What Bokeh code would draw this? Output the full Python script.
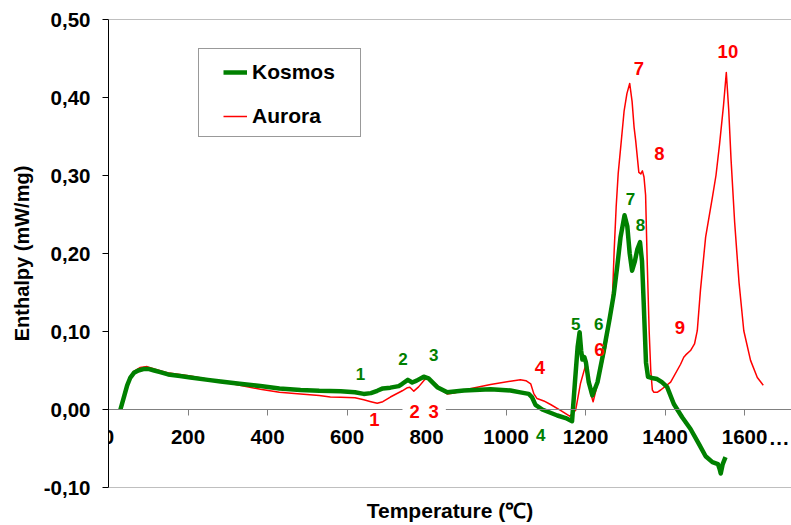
from bokeh.plotting import figure
from bokeh.models import (Range1d, FixedTicker, CustomJSTickFormatter, LinearAxis, Span,
                          Legend, LegendItem, ColumnDataSource)
from bokeh.core.properties import value
from bokeh.embed import file_html
from bokeh.resources import INLINE

# ---------------- data ----------------
kosmos_T = [30, 40, 47, 55, 64, 75, 90, 100, 115, 130, 150, 180, 206, 250, 282, 330, 382, 430, 483,
            530, 584, 620, 642, 660, 676, 690, 709, 730, 739, 753, 764, 775, 793, 805, 827, 852, 894,
            961, 1011, 1036, 1057, 1065, 1074, 1091, 1129, 1150, 1166, 1173, 1180, 1185, 1189, 1192,
            1197, 1201, 1208, 1217, 1230, 1246, 1260, 1271, 1280, 1288, 1298, 1305, 1311, 1317, 1324,
            1330, 1337, 1342, 1346, 1349, 1352, 1357, 1370, 1380, 1392, 1405, 1422, 1443, 1464, 1485,
            1502, 1519, 1533, 1537, 1540, 1545, 1552]
kosmos_E = [0.000, 0.018, 0.031, 0.041, 0.047, 0.050, 0.052, 0.052, 0.050, 0.048, 0.045, 0.043, 0.041,
            0.038, 0.036, 0.033, 0.030, 0.027, 0.025, 0.024, 0.0235, 0.022, 0.020, 0.021, 0.024, 0.027,
            0.028, 0.030, 0.033, 0.038, 0.0346, 0.037, 0.042, 0.040, 0.0286, 0.022, 0.0244, 0.026,
            0.0244, 0.022, 0.020, 0.016, 0.006, 0.000, -0.0077, -0.011, -0.015, 0.033, 0.080, 0.099,
            0.075, 0.064, 0.067, 0.060, 0.035, 0.018, 0.035, 0.076, 0.115, 0.148, 0.185, 0.221, 0.249,
            0.235, 0.200, 0.178, 0.190, 0.205, 0.2145, 0.190, 0.140, 0.100, 0.060, 0.042, 0.040, 0.039,
            0.035, 0.029, 0.007, -0.010, -0.025, -0.044, -0.060, -0.0675, -0.070, -0.076, -0.082,
            -0.070, -0.061]

aurora_T = [30, 40, 47, 55, 64, 80, 97, 115, 148, 206, 282, 330, 382, 430, 483, 530, 558, 584, 620,
            642, 660, 676, 690, 709, 739, 752, 758, 768, 780, 795, 802, 815, 827, 840, 852, 870, 894,
            961, 1011, 1036, 1050, 1062, 1070, 1078, 1095, 1112, 1137, 1160, 1175, 1187, 1203, 1208,
            1213, 1219, 1234, 1250, 1262, 1268, 1272, 1277, 1282, 1290, 1297, 1304, 1311, 1317, 1322,
            1326, 1334, 1339, 1343, 1347, 1351, 1355, 1360, 1364, 1368, 1372, 1380, 1389, 1414, 1439,
            1447, 1452, 1464, 1474, 1481, 1489, 1502, 1519, 1528, 1537, 1547, 1554, 1560, 1566, 1575,
            1586, 1598, 1615, 1632, 1647]
aurora_E = [0.000, 0.019, 0.033, 0.043, 0.049, 0.054, 0.055, 0.052, 0.047, 0.043, 0.036, 0.031, 0.026,
            0.022, 0.020, 0.018, 0.016, 0.0158, 0.015, 0.0124, 0.010, 0.008, 0.010, 0.016, 0.024, 0.028,
            0.0286, 0.0235, 0.029, 0.038, 0.0414, 0.036, 0.031, 0.024, 0.020, 0.021, 0.025, 0.032,
            0.0363, 0.038, 0.037, 0.033, 0.020, 0.014, 0.011, 0.0064, -0.001, -0.0086, -0.001, 0.033,
            0.062, 0.040, 0.020, 0.010, 0.041, 0.078, 0.118, 0.150, 0.204, 0.260, 0.302, 0.345, 0.383,
            0.405, 0.418, 0.395, 0.362, 0.345, 0.304, 0.302, 0.306, 0.298, 0.275, 0.190, 0.100, 0.050,
            0.025, 0.022, 0.022, 0.025, 0.035, 0.058, 0.067, 0.070, 0.0756, 0.084, 0.101, 0.153, 0.221,
            0.272, 0.300, 0.340, 0.390, 0.432, 0.385, 0.320, 0.240, 0.163, 0.101, 0.063, 0.041, 0.031]

green_labels = ["1", "2", "3", "4", "5", "6", "7", "8"]
green_label_T = [634, 741, 818, 1087, 1175, 1233, 1313, 1338]
green_label_E = [0.0458, 0.0645, 0.0705, -0.0333, 0.109, 0.109, 0.2705, 0.236]

red_labels = ["1", "2", "3", "4", "6", "7", "8", "9", "10"]
red_label_T = [669, 770, 818, 1085, 1235, 1334, 1386, 1437, 1558]
red_label_E = [-0.0132, -0.003, -0.003, 0.054, 0.0765, 0.437, 0.328, 0.1055, 0.459]
red_label_on_axis = [True, True, True, False, False, False, False, False, False]

x_ticks = [0, 200, 400, 600, 800, 1000, 1200, 1400, 1600]
y_ticks = [-0.10, 0.0, 0.10, 0.20, 0.30, 0.40, 0.50]
x_more_text = ["···"]
x_more_T = [1714]
x_more_E = [-0.042]

series_names = ["Kosmos", "Aurora"]
x_title = "Temperature (℃)"
y_title = "Enthalpy (mW/mg)"

# ---------------- styles ----------------
FONT = "Liberation Sans"
GREEN = "#008000"
RED = "#ff0000"
GREY = "#808080"

p = figure(width=791, height=525, output_backend="svg", toolbar_location=None,
           x_range=Range1d(0, 1718), y_range=Range1d(-0.10, 0.50),
           min_border_left=108, min_border_right=0, min_border_top=19, min_border_bottom=38,
           background_fill_color="white", border_fill_color="white")
p.outline_line_color = None
p.xgrid.grid_line_color = None
p.ygrid.grid_line_color = None

# x axis crossing at zero
xa = p.xaxis[0]
xa.fixed_location = 0
xa.ticker = FixedTicker(ticks=x_ticks)
xa.minor_tick_line_color = None
xa.axis_line_color = GREY
xa.major_tick_line_color = GREY
xa.major_tick_out = 6
xa.major_tick_in = 0
xa.major_label_standoff = 14
xa.major_label_text_font = FONT
xa.major_label_text_font_style = "bold"
xa.major_label_text_font_size = "20.5px"
xa.major_label_text_color = "black"

# title-only axis at the bottom
ta = LinearAxis(ticker=FixedTicker(ticks=[]), axis_line_color=None, major_tick_line_color=None,
                minor_tick_line_color=None, major_tick_out=0, major_tick_in=0,
                major_label_text_font_size="1px")
ta.axis_label = x_title
ta.axis_label_standoff = 11
ta.axis_label_text_font = FONT
ta.axis_label_text_font_style = "bold"
ta.axis_label_text_font_size = "21px"
ta.axis_label_text_color = "black"
p.add_layout(ta, "below")

ya = p.yaxis[0]
ya.ticker = FixedTicker(ticks=y_ticks)
ya.formatter = CustomJSTickFormatter(code="return tick.toFixed(2).replace('.', ',');")
ya.minor_tick_line_color = None
ya.axis_line_color = "black"
ya.major_tick_line_color = "black"
ya.major_tick_out = 6
ya.major_tick_in = 0
ya.major_label_standoff = 12
ya.major_label_text_font = FONT
ya.major_label_text_font_style = "bold"
ya.major_label_text_font_size = "20.5px"
ya.major_label_text_color = "black"
ya.axis_label = y_title
ya.axis_label_standoff = 8
ya.axis_label_text_font = FONT
ya.axis_label_text_font_style = "bold"
ya.axis_label_text_font_size = "20px"
ya.axis_label_text_color = "black"

# frame top / bottom border lines
p.add_layout(Span(location=y_ticks[-1], dimension="width", line_color=GREY, line_width=1))
p.add_layout(Span(location=y_ticks[0], dimension="width", line_color=GREY, line_width=1))

red_r = p.line(aurora_T, aurora_E, line_color=RED, line_width=1.5, line_join="round")
green_r = p.line(kosmos_T, kosmos_E, line_color=GREEN, line_width=4.5, line_join="round")

# peak labels
p.text(x=green_label_T, y=green_label_E, text=green_labels, text_font=value(FONT),
       text_font_style="bold", text_font_size="17px", text_color=GREEN,
       text_align="center", text_baseline="middle", level="annotation")

def pick(lst, flag):
    return [v for v, f in zip(lst, red_label_on_axis) if f == flag]

src_plain = ColumnDataSource(dict(x=pick(red_label_T, False), y=pick(red_label_E, False),
                                  t=pick(red_labels, False)))
src_bg = ColumnDataSource(dict(x=pick(red_label_T, True), y=pick(red_label_E, True),
                               t=pick(red_labels, True)))
p.text(x="x", y="y", text="t", source=src_plain, text_font=value(FONT),
       text_font_style="bold", text_font_size="18.5px", text_color=RED,
       text_align="center", text_baseline="middle", level="annotation")
rb = p.text(x="x", y="y", text="t", source=src_bg, text_font=value(FONT),
            text_font_style="bold", text_font_size="18.5px", text_color=RED,
            text_align="center", text_baseline="middle", level="annotation",
            background_fill_color="white")
rb.glyph.padding = dict(left=7, right=7, top=1, bottom=1)

p.text(x=x_more_T, y=x_more_E, text=x_more_text, text_font=value(FONT),
       text_font_style="bold", text_font_size="20.5px", text_color="black",
       text_align="right", text_baseline="middle", level="annotation")

# legend: box + items
dummy = p.line([], [], line_alpha=0)
box_legend = Legend(items=[LegendItem(label=" ", renderers=[dummy])], location=(90, 350),
                    padding=0, margin=0, glyph_width=100, glyph_height=87, label_width=61,
                    label_height=87, label_standoff=0, spacing=0,
                    border_line_color="#333333", border_line_width=1,
                    background_fill_color="white", background_fill_alpha=1,
                    label_text_font_size="4px")
p.add_layout(box_legend)

item_legend = Legend(items=[LegendItem(label=series_names[0], renderers=[green_r]),
                            LegendItem(label=series_names[1], renderers=[red_r])],
                     location=(115, 359), padding=0, margin=0, glyph_width=24, glyph_height=24,
                     label_height=24, label_standoff=5, spacing=20,
                     border_line_color=None, background_fill_alpha=0,
                     label_text_font=FONT, label_text_font_style="bold",
                     label_text_font_size="21px", label_text_color="black")
p.add_layout(item_legend)

open("out.html", "w").write(file_html(p, INLINE))
